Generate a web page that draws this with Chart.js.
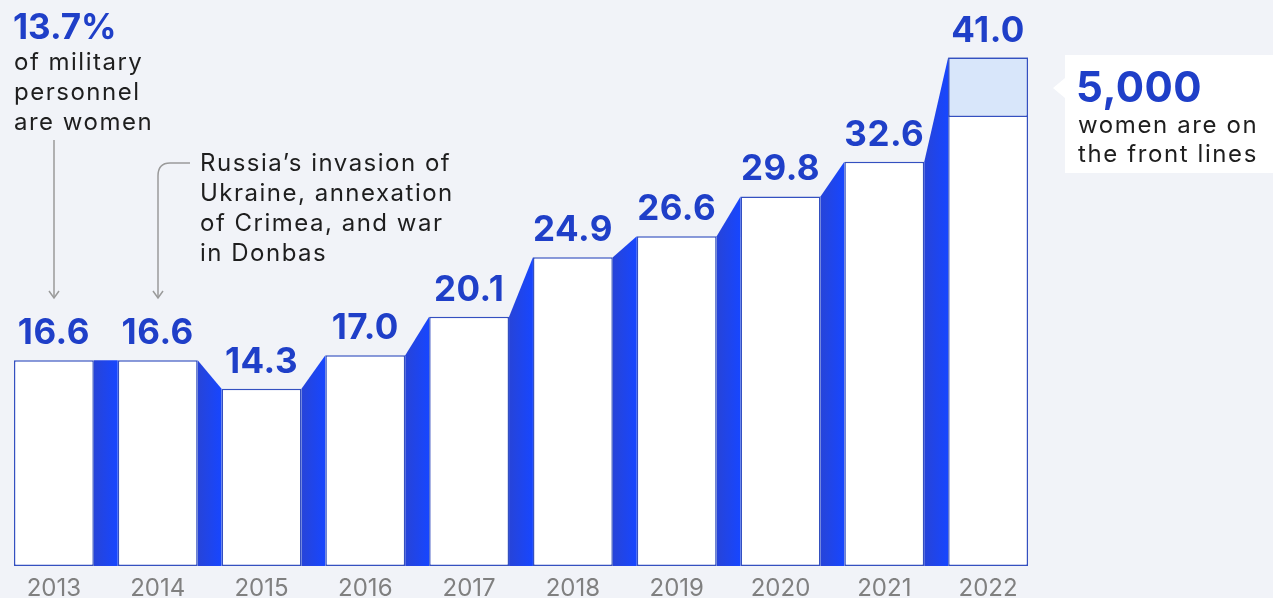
<!DOCTYPE html>
<html>
<head>
<meta charset="utf-8">
<script src="https://cdn.jsdelivr.net/npm/chart.js@4.4.0/dist/chart.umd.min.js"></script>
<style>
  html, body { margin: 0; padding: 0; background: #f1f3f8; }
  #wrap { width: 1273px; height: 598px; position: relative; }
</style>
</head>
<body>
<div id="wrap"><canvas id="chart"></canvas></div>
<script>
const years = ['2013', '2014', '2015', '2016', '2017', '2018', '2019', '2020', '2021', '2022'];
const totals = [16.6, 16.6, 14.3, 17.0, 20.1, 24.9, 26.6, 29.8, 32.6, 41.0];
// share on the front lines, shown as the pale top of the 2022 bar
const frontLine = [null, null, null, null, null, null, null, null, null, [36.2, 41.0]];

const blue = '#1f3fc8';
const ink = '#1e1e1e';
const font = 'Inter, "DejaVu Sans", sans-serif';

const connectors = {
    id: 'connectors',
    beforeDatasetsDraw(chart) {
        const ctx = chart.ctx;
        const bars = chart.getDatasetMeta(1).data;
        const top2022 = chart.getDatasetMeta(0).data[9];
        const base = bars[0].base;
        ctx.save();
        for (let i = 0; i < bars.length - 1; i++) {
            const a = bars[i], b = bars[i + 1];
            const x0 = a.x + a.width / 2, x1 = b.x - b.width / 2;
            const y0 = a.y;
            const y1 = (i + 1 === 9) ? top2022.y : b.y;
            const g = ctx.createLinearGradient(x0, 0, x1, 0);
            g.addColorStop(0, '#2744d8');
            g.addColorStop(1, '#1746ff');
            ctx.fillStyle = g;
            ctx.beginPath();
            ctx.moveTo(x0, y0);
            ctx.lineTo(x1, y1);
            ctx.lineTo(x1, base);
            ctx.lineTo(x0, base);
            ctx.closePath();
            ctx.fill();
        }
        ctx.restore();
    }
};

const valueLabels = {
    id: 'valueLabels',
    afterDatasetsDraw(chart) {
        const ctx = chart.ctx;
        const bars = chart.getDatasetMeta(1).data;
        ctx.save();
        ctx.fillStyle = blue;
        ctx.font = 'bold 35px ' + font;
        ctx.letterSpacing = '0.5px';
        ctx.textAlign = 'center';
        ctx.textBaseline = 'alphabetic';
        bars.forEach((bar, i) => {
            ctx.fillText(totals[i].toFixed(1), bar.x, bar.y - 16);
        });
        ctx.restore();
    }
};

function arrowHead(ctx, x, y) {
    ctx.beginPath();
    ctx.moveTo(x - 5, y - 7);
    ctx.lineTo(x, y);
    ctx.lineTo(x + 5, y - 7);
    ctx.stroke();
}

const notes = {
    id: 'notes',
    afterDraw(chart) {
        const ctx = chart.ctx;
        ctx.save();
        ctx.textBaseline = 'alphabetic';
        // left note
        ctx.fillStyle = blue;
        ctx.font = 'bold 35px ' + font;
        ctx.letterSpacing = '0px';
        ctx.fillText('13.7%', 13, 39);
        ctx.fillStyle = ink;
        ctx.font = '24px ' + font;
        ctx.letterSpacing = '1.5px';
        ['of military', 'personnel', 'are women'].forEach((t, i) => ctx.fillText(t, 14, 70 + i * 30));
        ctx.strokeStyle = '#9a9a9a';
        ctx.lineWidth = 1.5;
        ctx.beginPath();
        ctx.moveTo(54, 140);
        ctx.lineTo(54, 298);
        ctx.stroke();
        arrowHead(ctx, 54, 298);

        // 2014 note
        ctx.fillStyle = ink;
        ctx.font = '24px ' + font;
        ['Russia\u2019s invasion of', 'Ukraine, annexation', 'of Crimea, and war', 'in Donbas']
            .forEach((t, i) => ctx.fillText(t, 200, 171 + i * 30));
        ctx.beginPath();
        ctx.moveTo(190, 163);
        ctx.lineTo(170, 163);
        ctx.quadraticCurveTo(158, 163, 158, 176);
        ctx.lineTo(158, 298);
        ctx.stroke();
        arrowHead(ctx, 158, 298);

        // right callout
        ctx.fillStyle = '#ffffff';
        ctx.beginPath();
        ctx.moveTo(1065, 55);
        ctx.lineTo(1273, 55);
        ctx.lineTo(1273, 173);
        ctx.lineTo(1065, 173);
        ctx.lineTo(1065, 98);
        ctx.lineTo(1053, 88);
        ctx.lineTo(1065, 78);
        ctx.closePath();
        ctx.fill();
        ctx.fillStyle = blue;
        ctx.font = 'bold 42px ' + font;
        ctx.letterSpacing = '0.5px';
        ctx.fillText('5,000', 1076, 102);
        ctx.fillStyle = ink;
        ctx.font = '24px ' + font;
        ctx.letterSpacing = '1.6px';
        ctx.fillText('women are on', 1078, 133);
        ctx.fillText('the front lines', 1078, 162);
        ctx.restore();
    }
};

new Chart(document.getElementById('chart').getContext('2d'), {
    type: 'bar',
    data: {
        labels: years,
        datasets: [{
            label: 'Women on the front lines',
            data: frontLine,
            backgroundColor: '#d8e6fa',
            borderColor: '#3450c0',
            borderWidth: 1.5,
            borderSkipped: false,
            grouped: false,
            order: 0
        }, {
            label: 'Women in the armed forces, thousands',
            data: totals,
            backgroundColor: '#ffffff',
            borderColor: '#3450c0',
            borderWidth: 1.5,
            borderSkipped: false,
            grouped: false,
            order: 1
        }]
    },
    options: {
        responsive: true,
        maintainAspectRatio: false,
        animation: false,
        layout: { padding: { left: 2, right: 233, top: 8, bottom: 0 } },
        datasets: { bar: { categoryPercentage: 1, barPercentage: 0.77 } },
        plugins: { legend: { display: false }, tooltip: { enabled: false } },
        scales: {
            x: {
                grid: { display: false },
                border: { display: false },
                ticks: { color: '#808080', font: { family: font, size: 24 }, padding: 0 },
                afterFit(scale) { scale.height = 32; }
            },
            y: {
                display: false,
                min: 0,
                max: 45
            }
        }
    },
    plugins: [connectors, valueLabels, notes]
});
</script>
</body>
</html>
